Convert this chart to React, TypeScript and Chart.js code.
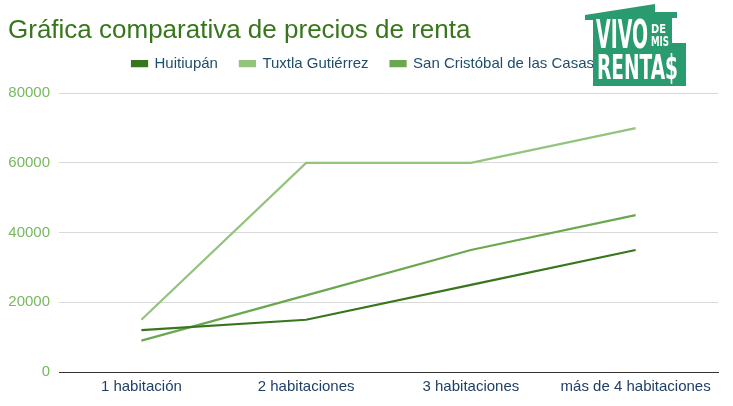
import React, { useEffect, useRef } from "react";
import { Chart, registerables } from "chart.js";

Chart.register(...registerables);

const categories = ["1 habitación", "2 habitaciones", "3 habitaciones", "más de 4 habitaciones"];
const seriesNames = ["Huitiupán", "Tuxtla Gutiérrez", "San Cristóbal de las Casas"];
const huitiupan = [12000, 15000, 25000, 35000];
const tuxtla = [15000, 60000, 60000, 70000];
const sanCristobal = [9000, 22000, 35000, 45000];
const seriesColors = ["#38761d", "#93c47d", "#6aa84f"];
const titleText = "Gráfica comparativa de precios de renta";

const FONT = "Arial, Liberation Sans, sans-serif";

function Logo() {
  const f = "DejaVu Sans Condensed, Liberation Sans Narrow, sans-serif";
  return (
    <svg
      width={110}
      height={90}
      viewBox="580 0 110 90"
      style={{ position: "absolute", left: 580, top: 0 }}
    >
      <polygon
        points="585,15 655,4 655,12 677,12 677,18 672,18 672,43 686,43 686,86 593,86 593,20 585,20"
        fill="#2a9a6f"
      />
      <text x={596} y={48} fill="#ffffff" fontFamily={f} fontWeight="bold" fontSize={39}
        textLength={52} lengthAdjust="spacingAndGlyphs">VIVO</text>
      <text x={651} y={33} fill="#ffffff" fontFamily={f} fontWeight="bold" fontSize={13}
        textLength={15} lengthAdjust="spacingAndGlyphs">DE</text>
      <text x={651} y={46} fill="#ffffff" fontFamily={f} fontWeight="bold" fontSize={14}
        textLength={18} lengthAdjust="spacingAndGlyphs">MIS</text>
      <text x={597} y={79} fill="#ffffff" fontFamily={f} fontWeight="bold" fontSize={34}
        textLength={81} lengthAdjust="spacingAndGlyphs">RENTA$</text>
    </svg>
  );
}

export default function App() {
  const ref = useRef<HTMLCanvasElement | null>(null);

  useEffect(() => {
    if (!ref.current) return;
    const data = [huitiupan, tuxtla, sanCristobal];
    const chart = new Chart(ref.current, {
      type: "line",
      data: {
        labels: categories,
        datasets: seriesNames.map((name, i) => ({
          label: name,
          data: data[i],
          borderColor: seriesColors[i],
          backgroundColor: seriesColors[i],
          borderWidth: 2.2,
          pointRadius: 0,
          tension: 0,
          fill: false,
        })),
      },
      options: {
        animation: false,
        responsive: false,
        maintainAspectRatio: false,
        layout: { padding: { left: 8, right: 15, top: 0, bottom: 4 } },
        plugins: {
          title: {
            display: true,
            text: titleText,
            align: "start",
            color: "#38761d",
            font: { family: FONT, size: 26, weight: "normal" },
            padding: { top: 15.5, bottom: -12.5 },
          },
          subtitle: {
            display: true,
            text: " ",
            weight: 500,
            font: { family: FONT, size: 10 },
            padding: { top: 0, bottom: 0 },
          },
          legend: {
            display: true,
            labels: {
              boxWidth: 15,
              boxHeight: 5,
              color: "#1f4e6b",
              font: { family: FONT, size: 15 },
              padding: 22,
            },
          },
          tooltip: { enabled: false },
        },
        scales: {
          x: {
            type: "category",
            offset: true,
            grid: { display: false, tickLength: 0 },
            border: { display: true, color: "#333333", width: 1 },
            ticks: {
              color: "#1f3f66",
              font: { family: FONT, size: 15 },
              padding: 6,
              maxRotation: 0,
              autoSkip: false,
            },
          },
          y: {
            min: 0,
            max: 80000,
            ticks: {
              stepSize: 20000,
              color: "#76b95e",
              font: { family: FONT, size: 15 },
              padding: 9,
              callback: (v: any) => String(v),
            },
            grid: {
              drawTicks: false,
              color: (ctx: any) => (ctx.tick && ctx.tick.value === 0 ? "#333333" : "#d9d9d9"),
              lineWidth: 1,
            },
            border: { display: false },
            afterFit: (scale: any) => {
              scale.width = 51;
            },
          },
        },
      },
    });
    return () => chart.destroy();
  }, []);

  return (
    <div style={{ position: "fixed", left: 0, top: 0, width: 733, height: 406, background: "#fff" }}>
      <canvas ref={ref} width={733} height={406} style={{ display: "block" }} />
      <Logo />
    </div>
  );
}
